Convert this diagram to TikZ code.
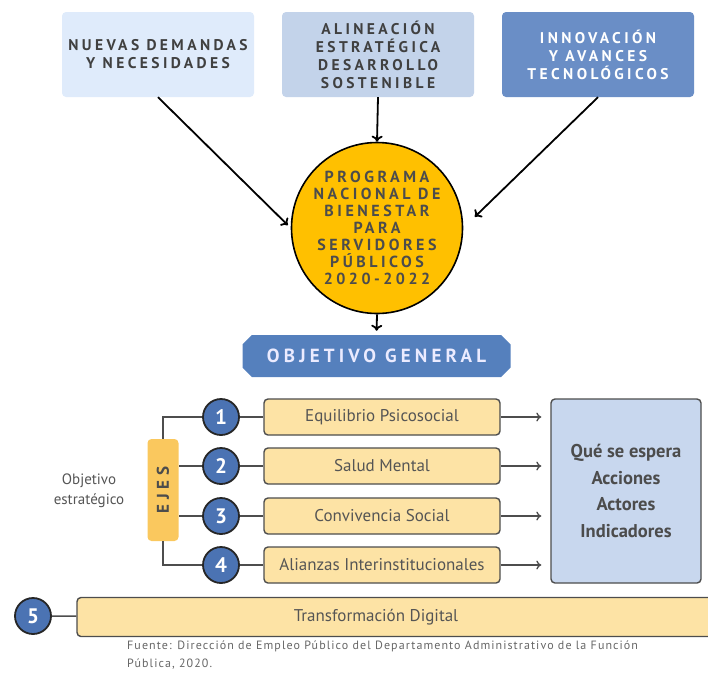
\documentclass[tikz,border=0pt]{standalone}
\usepackage{fontspec}
\setmainfont{PT Sans}
\newfontfamily\spaced{PT Sans}[LetterSpace=22]
\newfontfamily\wide{PT Sans}[LetterSpace=30]
\newfontfamily\fnt{PT Sans}[LetterSpace=9]
\usetikzlibrary{shapes.misc,arrows.meta}
\definecolor{boxa}{HTML}{DFEBFB}
\definecolor{boxb}{HTML}{C3D3EA}
\definecolor{boxc}{HTML}{6A8EC6}
\definecolor{progf}{HTML}{FFC000}
\definecolor{objf}{HTML}{5580BD}
\definecolor{numf}{HTML}{4B73B3}
\definecolor{ejef}{HTML}{FDE3A5}
\definecolor{ejesf}{HTML}{FAC85E}
\definecolor{qsf}{HTML}{C8D7EE}
\definecolor{lineg}{HTML}{4D4D4D}
\definecolor{txtg}{HTML}{555555}
\begin{document}
\begin{tikzpicture}[x=1pt, y=-1pt,
        every node/.style={align=center, inner sep=0pt},
        topbox/.style={rounded corners=4pt, minimum width=192pt, minimum height=85pt,
            font=\spaced\bfseries\fontsize{15.5}{18}\selectfont},
        ar/.style={-{To[length=6pt,width=11pt]}, line width=1.8pt},
        sar/.style={-{To[length=5pt,width=9pt]}, line width=1.3pt, draw=lineg, shorten >=9pt},
        ln/.style={line width=1.5pt, draw=lineg},
        num/.style={circle, draw=black!85, fill=numf, line width=1.8pt, minimum size=36pt,
            text=white, font=\bfseries\fontsize{21}{21}\selectfont},
        eje/.style={draw=lineg, line width=1.4pt, fill=ejef, rounded corners=4pt,
            minimum width=236pt, minimum height=36pt, text=txtg, font=\fontsize{17}{18}\selectfont},
    ]
    \useasboundingbox (0,0) rectangle (708,673);
    \clip (0,0) rectangle (708,673);

    \node[topbox, fill=boxa, text=black!75](nd) at (158,54.5) {NUEVAS DEMANDAS\\Y NECESIDADES};
    \node[topbox, fill=boxb, text=black!75](ali) at (378,54.5) {ALINEACIÓN\\ESTRATÉGICA\\DESARROLLO\\SOSTENIBLE};
    \node[topbox, fill=boxc, text=white](inn) at (598,54.5) {INNOVACIÓN\\Y AVANCES\\TECNOLÓGICOS};
    \node[circle, draw=black, line width=1.6pt, fill=progf, minimum size=171pt, text=black!70,
        font=\spaced\bfseries\fontsize{16}{17}\selectfont](prog) at (377,228)
        {PROGRAMA\\NACIONAL DE\\BIENESTAR\\PARA\\SERVIDORES\\PÚBLICOS\\2020-2022};
    \node[chamfered rectangle, chamfered rectangle xsep=6pt, fill=objf, minimum width=268pt,
        minimum height=42pt, text=white!92!blue,
        font=\spaced\bfseries\fontsize{19}{18}\selectfont](obj) at (376.5,356) {OBJETIVO GENERAL};

    \path[ar]
    (nd.south) edge[shorten >=4pt] (prog.west)
    (ali.south) edge (prog.north)
    (inn.south) edge[shorten >=16pt] (prog.east)
    (prog.south) edge[shorten >=4pt] (obj.north)
    ;

    \node[num](1) at (221,417) {1};
    \node[num](2) at (221,466) {2};
    \node[num](3) at (221,516) {3};
    \node[num](4) at (221,565) {4};
    \node[num](5) at (33,616) {5};
    \node[eje](e1) at (382,417) {Equilibrio Psicosocial};
    \node[eje](e2) at (382,466) {Salud Mental};
    \node[eje](e3) at (382,516) {Convivencia Social};
    \node[eje](e4) at (382,565) {Alianzas Interinstitucionales};
    \node[eje, minimum width=640pt, minimum height=39pt](td) at (397,617) {};
    \node[text=txtg, font=\fontsize{17}{18}\selectfont](tdtxt) at (376,617) {Transformación Digital};
    \node[fill=ejesf, rounded corners=4pt, minimum width=31pt, minimum height=102pt,
        text=black!70, font=\wide\bfseries\fontsize{17}{17}\selectfont](ejes) at (163,490) {\rotatebox{90}{EJES}};
    \node[draw=lineg, line width=1.4pt, fill=qsf, rounded corners=4pt, minimum width=150pt,
        minimum height=184pt, text=black!70, font=\bfseries\fontsize{18.5}{26.5}\selectfont](qs) at (626,491)
        {Qué se espera\\Acciones\\Actores\\Indicadores};
    \node[text=txtg, font=\fontsize{15}{20}\selectfont](oe) at (89,491) {Objetivo\\estratégico};
    \node[anchor=north west, align=left, text=black!60, font=\fnt\fontsize{12}{17.5}\selectfont](src) at (127,641)
        {Fuente: Dirección de Empleo Público del Departamento Administrativo de la Función\\Pública, 2020.};

    \draw[ln] (1.west) -| (ejes.north);
    \draw[ln] (4.west) -| (ejes.south);
    \draw[ln] (2.west) -- (2.west -| ejes.east);
    \draw[ln] (3.west) -- (3.west -| ejes.east);
    \path[ln]
    (1) edge (e1) (2) edge (e2) (3) edge (e3) (4) edge (e4) (5) edge (td)
    ;
    \draw[sar] (e1.east) -- (e1.east -| qs.west);
    \draw[sar] (e2.east) -- (e2.east -| qs.west);
    \draw[sar] (e3.east) -- (e3.east -| qs.west);
    \draw[sar] (e4.east) -- (e4.east -| qs.west);
    \end{tikzpicture}
\end{document}
